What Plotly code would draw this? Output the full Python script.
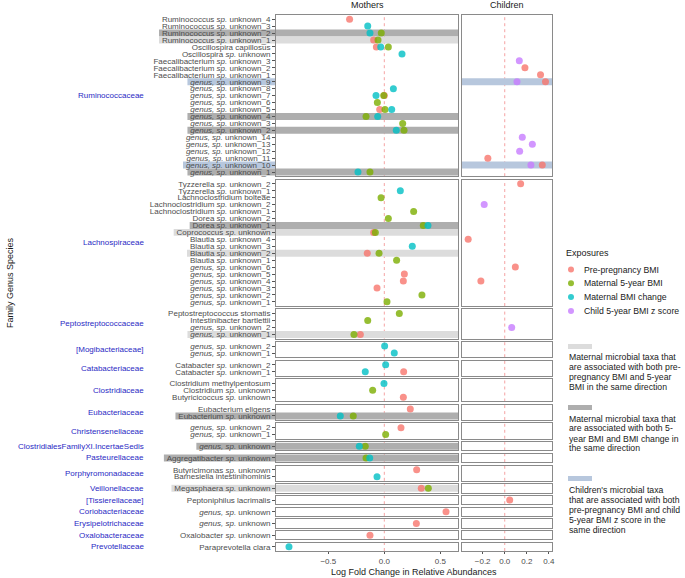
import plotly.graph_objects as go
from plotly.subplots import make_subplots

N = None

FAMILIES = [
    "Ruminococcaceae", "Lachnospiraceae", "Peptostreptococcaceae", "[Mogibacteriaceae]",
    "Catabacteriaceae", "Clostridiaceae", "Eubacteriaceae", "Christensenellaceae",
    "ClostridialesFamilyXI.IncertaeSedis", "Pasteurellaceae", "Porphyromonadaceae",
    "Veillonellaceae", "[Tissierellaceae]", "Coriobacteriaceae", "Erysipelotrichaceae",
    "Oxalobacteraceae", "Prevotellaceae",
]

# tick labels per family panel, top to bottom
SPECIES = [
    ["Ruminococcus sp. unknown_4", "Ruminococcus sp. unknown_3", "Ruminococcus sp. unknown_2",
     "Ruminococcus sp. unknown_1", "Oscillospira capillosus", "Oscillospira sp. unknown",
     "Faecalibacterium sp. unknown_3", "Faecalibacterium sp. unknown_2", "Faecalibacterium sp. unknown_1",
     "genus, sp. unknown_9", "genus, sp. unknown_8", "genus, sp. unknown_7", "genus, sp. unknown_6",
     "genus, sp. unknown_5", "genus, sp. unknown_4", "genus, sp. unknown_3", "genus, sp. unknown_2",
     "genus, sp. unknown_14", "genus, sp. unknown_13", "genus, sp. unknown_12", "genus, sp. unknown_11",
     "genus, sp. unknown_10", "genus, sp. unknown_1"],
    ["Tyzzerella sp. unknown_2", "Tyzzerella sp. unknown_1", "Lachnoclostridium bolteae",
     "Lachnoclostridium sp. unknown_2", "Lachnoclostridium sp. unknown_1", "Dorea sp. unknown_2",
     "Dorea sp. unknown_1", "Coprococcus sp. unknown", "Blautia sp. unknown_4", "Blautia sp. unknown_3",
     "Blautia sp. unknown_2", "Blautia sp. unknown_1", "genus, sp. unknown_6", "genus, sp. unknown_5",
     "genus, sp. unknown_4", "genus, sp. unknown_3", "genus, sp. unknown_2", "genus, sp. unknown_1"],
    ["Peptostreptococcus stomatis", "Intestinibacter bartlettii", "genus, sp. unknown_2", "genus, sp. unknown_1"],
    ["genus, sp. unknown_2", "genus, sp. unknown_1"],
    ["Catabacter sp. unknown_2", "Catabacter sp. unknown_1"],
    ["Clostridium methylpentosum", "Clostridium sp. unknown", "Butyricicoccus sp. unknown"],
    ["Eubacterium eligens", "Eubacterium sp. unknown"],
    ["genus, sp. unknown_2", "genus, sp. unknown_1"],
    ["genus, sp. unknown"],
    ["Aggregatibacter sp. unknown"],
    ["Butyricimonas sp. unknown", "Barnesiella intestinihominis"],
    ["Megasphaera sp. unknown"],
    ["Peptoniphilus lacrimalis"],
    ["genus, sp. unknown"],
    ["genus, sp. unknown"],
    ["Oxalobacter sp. unknown"],
    ["Paraprevotella clara"],
]

# Mothers: log fold change, pre-pregnancy BMI
M_PRE = [
    [-0.31, N, N, -0.095, -0.071, N, N, N, N, N, N, 0.0, N, -0.041, N, N, N, N, N, N, N, N, N],
    [N, N, N, N, N, N, N, -0.095, N, N, -0.152, N, N, 0.179, 0.17, -0.065, N, N],
    [N, N, N, -0.214], [N, N], [N, 0.173], [N, N, 0.17], [0.232, N], [0.149, N],
    [N], [N], [0.289, N], [0.33], [N], [0.551], [0.286], [-0.128], [N],
]
# Mothers: maternal 5-year BMI
M_5Y = [
    [N, N, -0.027, -0.056, 0.036, N, N, N, N, N, N, -0.005, -0.062, 0.006, -0.163, 0.164, 0.176, N, N, N, N, N, -0.128],
    [N, N, -0.029, N, 0.262, 0.036, 0.348, -0.08, N, N, -0.047, 0.11, N, N, N, N, 0.336, 0.024],
    [0.134, -0.148, N, -0.271], [N, N], [N, N], [N, -0.104, N], [N, -0.277], [N, 0.012],
    [-0.17], [-0.163], [N, N], [0.393], [N], [N], [N], [N], [N],
]
# Mothers: maternal BMI change
M_CHG = [
    [N, -0.148, -0.128, N, -0.032, 0.158, N, N, N, N, 0.081, -0.074, N, 0.066, -0.059, N, 0.107, N, N, N, N, N, -0.235],
    [N, 0.143, N, N, N, N, 0.39, N, N, 0.25, N, N, N, N, N, N, N, N],
    [N, N, N, N], [0.003, 0.089], [0.012, -0.17], [-0.003, N, N], [N, -0.393], [N, N],
    [-0.223], [-0.13], [N, -0.065], [N], [N], [N], [N], [N], [-0.851],
]
# Children: pre-pregnancy BMI
C_PRE = [
    [N, N, N, N, N, N, N, 0.183, 0.324, 0.369, N, N, N, N, N, N, N, N, N, N, -0.153, 0.34, N],
    [0.144, N, N, N, N, N, N, N, -0.331, N, N, N, 0.096, N, -0.216, N, N, N],
    [N, N, N, N], [N, N], [N, N], [N, N, N], [N, N], [N, N],
    [N], [N], [N, N], [N], [0.045], [N], [N], [N], [N],
]
# Children: child 5-year BMI z score
C_Z = [
    [N, N, N, N, N, N, 0.132, N, N, 0.111, N, N, N, N, N, N, N, 0.159, 0.25, 0.135, N, 0.237, N],
    [N, N, N, -0.186, N, N, N, N, N, N, N, N, N, N, N, N, N, N],
    [N, N, 0.063, N], [N, N], [N, N], [N, N, N], [N, N], [N, N],
    [N], [N], [N, N], [N], [N], [N], [N], [N], [N],
]
# row highlight: L = light grey, D = dark grey, B = blue
HIGHLIGHT = [
    ["", "", "D", "L", "", "", "", "", "", "B", "", "", "", "", "D", "", "D", "", "", "", "", "B", "D"],
    ["", "", "", "", "", "", "D", "L", "", "", "L", "", "", "", "", "", "", ""],
    ["", "", "", "L"], ["", ""], ["", ""], ["", "", ""], ["", "D"], ["", ""],
    ["D"], ["D"], ["", ""], ["L"], [""], [""], [""], [""], [""],
]

EXPOSURES = ["Pre-pregnancy BMI", "Maternal 5-year BMI", "Maternal BMI change", "Child 5-year BMI z score"]
COLORS = ["#F8766D", "#7CAE00", "#00BFC4", "#C77CFF"]
BAND_COLORS = {"L": "#DCDCDC", "D": "#AEAEAE", "B": "#B7C7DD"}
BAND_NOTES = [
    ["Maternal microbial taxa that", "are associated with both pre-", "pregnancy BMI and 5-year", "BMI in the same direction"],
    ["Maternal microbial taxa that", "are associated with both 5-", "year BMI and BMI change in", "the same direction"],
    ["Children's microbial taxa", "that are associated with both", "pre-pregnancy BMI and child",
     "5-year BMI z score in the", "same direction"],
]
M_RANGE = [-0.967, 0.658]
C_RANGE = [-0.387, 0.428]

FONT = "Liberation Sans, Arial, Helvetica, sans-serif"
W, H = 685, 578
ML, MR, MT, MB = 276, 133, 15, 27
PW, PH = W - ML - MR, H - MT - MB
GAP = 3.36


def px_x(p):
    return (p - ML) / PW


def px_y(p):
    return (H - MB - p) / PH


AW = {' ': 278, ',': 278, '-': 333, '.': 278, '_': 556, '[': 278, ']': 278}
for ch in "0123456789":
    AW[ch] = 556
AW.update(dict(zip("ABCDEFGHIJKLMNOPQRSTUVWXYZ",
                   [667, 667, 722, 722, 667, 611, 778, 722, 278, 500, 667, 556, 833, 722, 778, 667, 778, 722,
                    667, 611, 722, 667, 944, 667, 667, 611])))
AW.update(dict(zip("abcdefghijklmnopqrstuvwxyz",
                   [556, 556, 500, 556, 556, 278, 556, 556, 222, 222, 500, 222, 833, 556, 556, 556, 556, 333,
                    500, 278, 556, 500, 722, 500, 500, 500])))


def text_w(s, size):
    return sum(AW.get(c, 556) for c in s) / 1000 * size


def fmt(s):
    return s.replace("genus, sp.", "<i>genus, sp.</i>").replace(" sp. ", " <i>sp.</i> ")


nfam = len(FAMILIES)
fig = make_subplots(rows=nfam, cols=2, row_heights=[len(s) + 0.2 for s in SPECIES],
                    column_widths=[182, 90], horizontal_spacing=4 / PW, vertical_spacing=GAP / PH)


def aid(r, c):
    k = r * 2 + c + 1
    return "" if k == 1 else str(k)


shapes = []
annotations = []
LABEL_RIGHT = 270.5
TICK_SIZE = 8

for r in range(nfam):
    cats = SPECIES[r]
    n = len(cats)
    for c, sers in ((0, [(0, M_PRE[r]), (1, M_5Y[r]), (2, M_CHG[r])]), (1, [(0, C_PRE[r]), (3, C_Z[r])])):
        for ci, vals in sers:
            xs = [v for v in vals if v is not None]
            ys = [cats[i] for i, v in enumerate(vals) if v is not None]
            if not xs:
                continue
            fig.add_trace(go.Scatter(x=xs, y=ys, mode="markers", showlegend=False,
                                     name=EXPOSURES[ci],
                                     marker=dict(color=COLORS[ci], size=7, opacity=0.8, line=dict(width=0))),
                          row=r + 1, col=c + 1)
        # dashed zero line
        a = aid(r, c)
        shapes.append(dict(type="line", xref="x" + a, yref="y" + a + " domain", x0=0, x1=0, y0=0, y1=1,
                           line=dict(color="#F5A3A3", width=1, dash="3px,3px"), layer="below"))
    am = aid(r, 0)
    ac = aid(r, 1)
    for i, code in enumerate(HIGHLIGHT[r]):
        if not code:
            continue
        yi = n - 1 - i
        col = BAND_COLORS[code]
        target = am if code in "LD" else ac
        shapes.append(dict(type="rect", xref="x" + target + " domain", yref="y" + am, x0=0, x1=1,
                           y0=yi - 0.5, y1=yi + 0.5, fillcolor=col, line=dict(width=0), layer="below"))
        w = text_w(cats[i], TICK_SIZE)
        x0 = px_x(LABEL_RIGHT - w - 3)
        x1 = 0 if code in "LD" else px_x(ML - 1)
        shapes.append(dict(type="rect", xref="paper", yref="y" + am, x0=x0, x1=x1,
                           y0=yi - 0.5, y1=yi + 0.5, fillcolor=col, line=dict(width=0), layer="below"))

    common_y = dict(type="category", categoryorder="array", categoryarray=list(reversed(cats)),
                    range=[-0.6, n - 0.4], showgrid=False, zeroline=False, showline=True, mirror=True,
                    linecolor="#8A8A8A", linewidth=1, fixedrange=True)
    fig.update_yaxes(**common_y, tickmode="array", tickvals=cats, ticktext=[fmt(s) for s in cats],
                     ticks="outside", ticklen=3, tickcolor="#555555", tickwidth=1,
                     tickfont=dict(size=TICK_SIZE, color="#4D4D4D", family=FONT), row=r + 1, col=1)
    fig.update_yaxes(**common_y, showticklabels=False, ticks="", row=r + 1, col=2)
    last = r == nfam - 1
    for c, rng, tv in ((0, M_RANGE, [-0.5, 0, 0.5]), (1, C_RANGE, [-0.2, 0, 0.2, 0.4])):
        fig.update_xaxes(range=rng, showgrid=False, zeroline=False, showline=True, mirror=True,
                         linecolor="#8A8A8A", linewidth=1, fixedrange=True,
                         tickmode="array", tickvals=tv, ticktext=[f"{v:.1f}".replace("-", "\u2212") for v in tv],
                         showticklabels=last, ticks="outside" if last else "", ticklen=2,
                         tickcolor="#555555", tickfont=dict(size=TICK_SIZE, color="#4D4D4D", family=FONT),
                         row=r + 1, col=c + 1)
    annotations.append(dict(text=FAMILIES[r], xref="paper", x=px_x(144), xanchor="right",
                            yref="y" + am + " domain", y=0.5, yanchor="middle", showarrow=False,
                            font=dict(size=8, color="#2A2AC4", family=FONT), borderpad=0, borderwidth=0))

# strip titles
for c, title in ((0, "Mothers"), (1, "Children")):
    annotations.append(dict(text=title, xref="x" + aid(0, c) + " domain", x=0.5, xanchor="center",
                            yref="paper", y=px_y(5.5), yanchor="middle", showarrow=False,
                            font=dict(size=9, color="#1A1A1A", family=FONT)))

annotations.append(dict(text="Log Fold Change in Relative Abundances", xref="paper", x=px_x(414), xanchor="center",
                        yref="paper", y=px_y(571.5), yanchor="middle", showarrow=False,
                        font=dict(size=9, color="#1A1A1A", family=FONT)))
annotations.append(dict(text="Family Genus Species", xref="paper", x=px_x(10), xanchor="center",
                        yref="paper", y=px_y(283), yanchor="middle", showarrow=False, textangle=-90,
                        font=dict(size=9, color="#1A1A1A", family=FONT)))

# legend (manual)
annotations.append(dict(text="Exposures", xref="paper", x=px_x(566), xanchor="left", yref="paper",
                        y=px_y(253), yanchor="middle", showarrow=False, borderpad=0, borderwidth=0,
                        font=dict(size=9, color="#1A1A1A", family=FONT)))
for j, (lab, colr) in enumerate(zip(EXPOSURES, COLORS)):
    yy = 269.5 + 13.8 * j
    shapes.append(dict(type="circle", xref="paper", yref="paper", xsizemode="pixel", ysizemode="pixel",
                       xanchor=px_x(571), yanchor=px_y(yy), x0=-3, x1=3, y0=-3, y1=3,
                       fillcolor=colr, opacity=0.8, line=dict(width=0)))
    annotations.append(dict(text=lab, xref="paper", x=px_x(584), xanchor="left", yref="paper",
                            y=px_y(yy), yanchor="middle", showarrow=False, borderpad=0, borderwidth=0,
                            font=dict(size=8.7, color="#1A1A1A", family=FONT)))

for code, rect_top, text_top, lines in (("L", 344, 357, BAND_NOTES[0]), ("D", 405, 418.5, BAND_NOTES[1]),
                                        ("B", 476, 490, BAND_NOTES[2])):
    shapes.append(dict(type="rect", xref="paper", yref="paper", x0=px_x(568), x1=px_x(592),
                       y0=px_y(rect_top + 5), y1=px_y(rect_top), fillcolor=BAND_COLORS[code], line=dict(width=0)))
    for j, ln in enumerate(lines):
        annotations.append(dict(text=ln, xref="paper", x=px_x(569), xanchor="left", yref="paper",
                                y=px_y(text_top + 10 * j), yanchor="middle", showarrow=False,
                                borderpad=0, borderwidth=0,
                                font=dict(size=8.7, color="#1A1A1A", family=FONT)))

fig.update_layout(width=W, height=H, margin=dict(l=ML, r=MR, t=MT, b=MB),
                  plot_bgcolor="white", paper_bgcolor="white", showlegend=False,
                  font=dict(family=FONT, size=8, color="#1A1A1A"),
                  shapes=shapes, annotations=annotations)

fig.write_html("out.html", config={"displayModeBar": False},
               post_script="document.body.style.margin='0px';document.body.style.padding='0px';")
